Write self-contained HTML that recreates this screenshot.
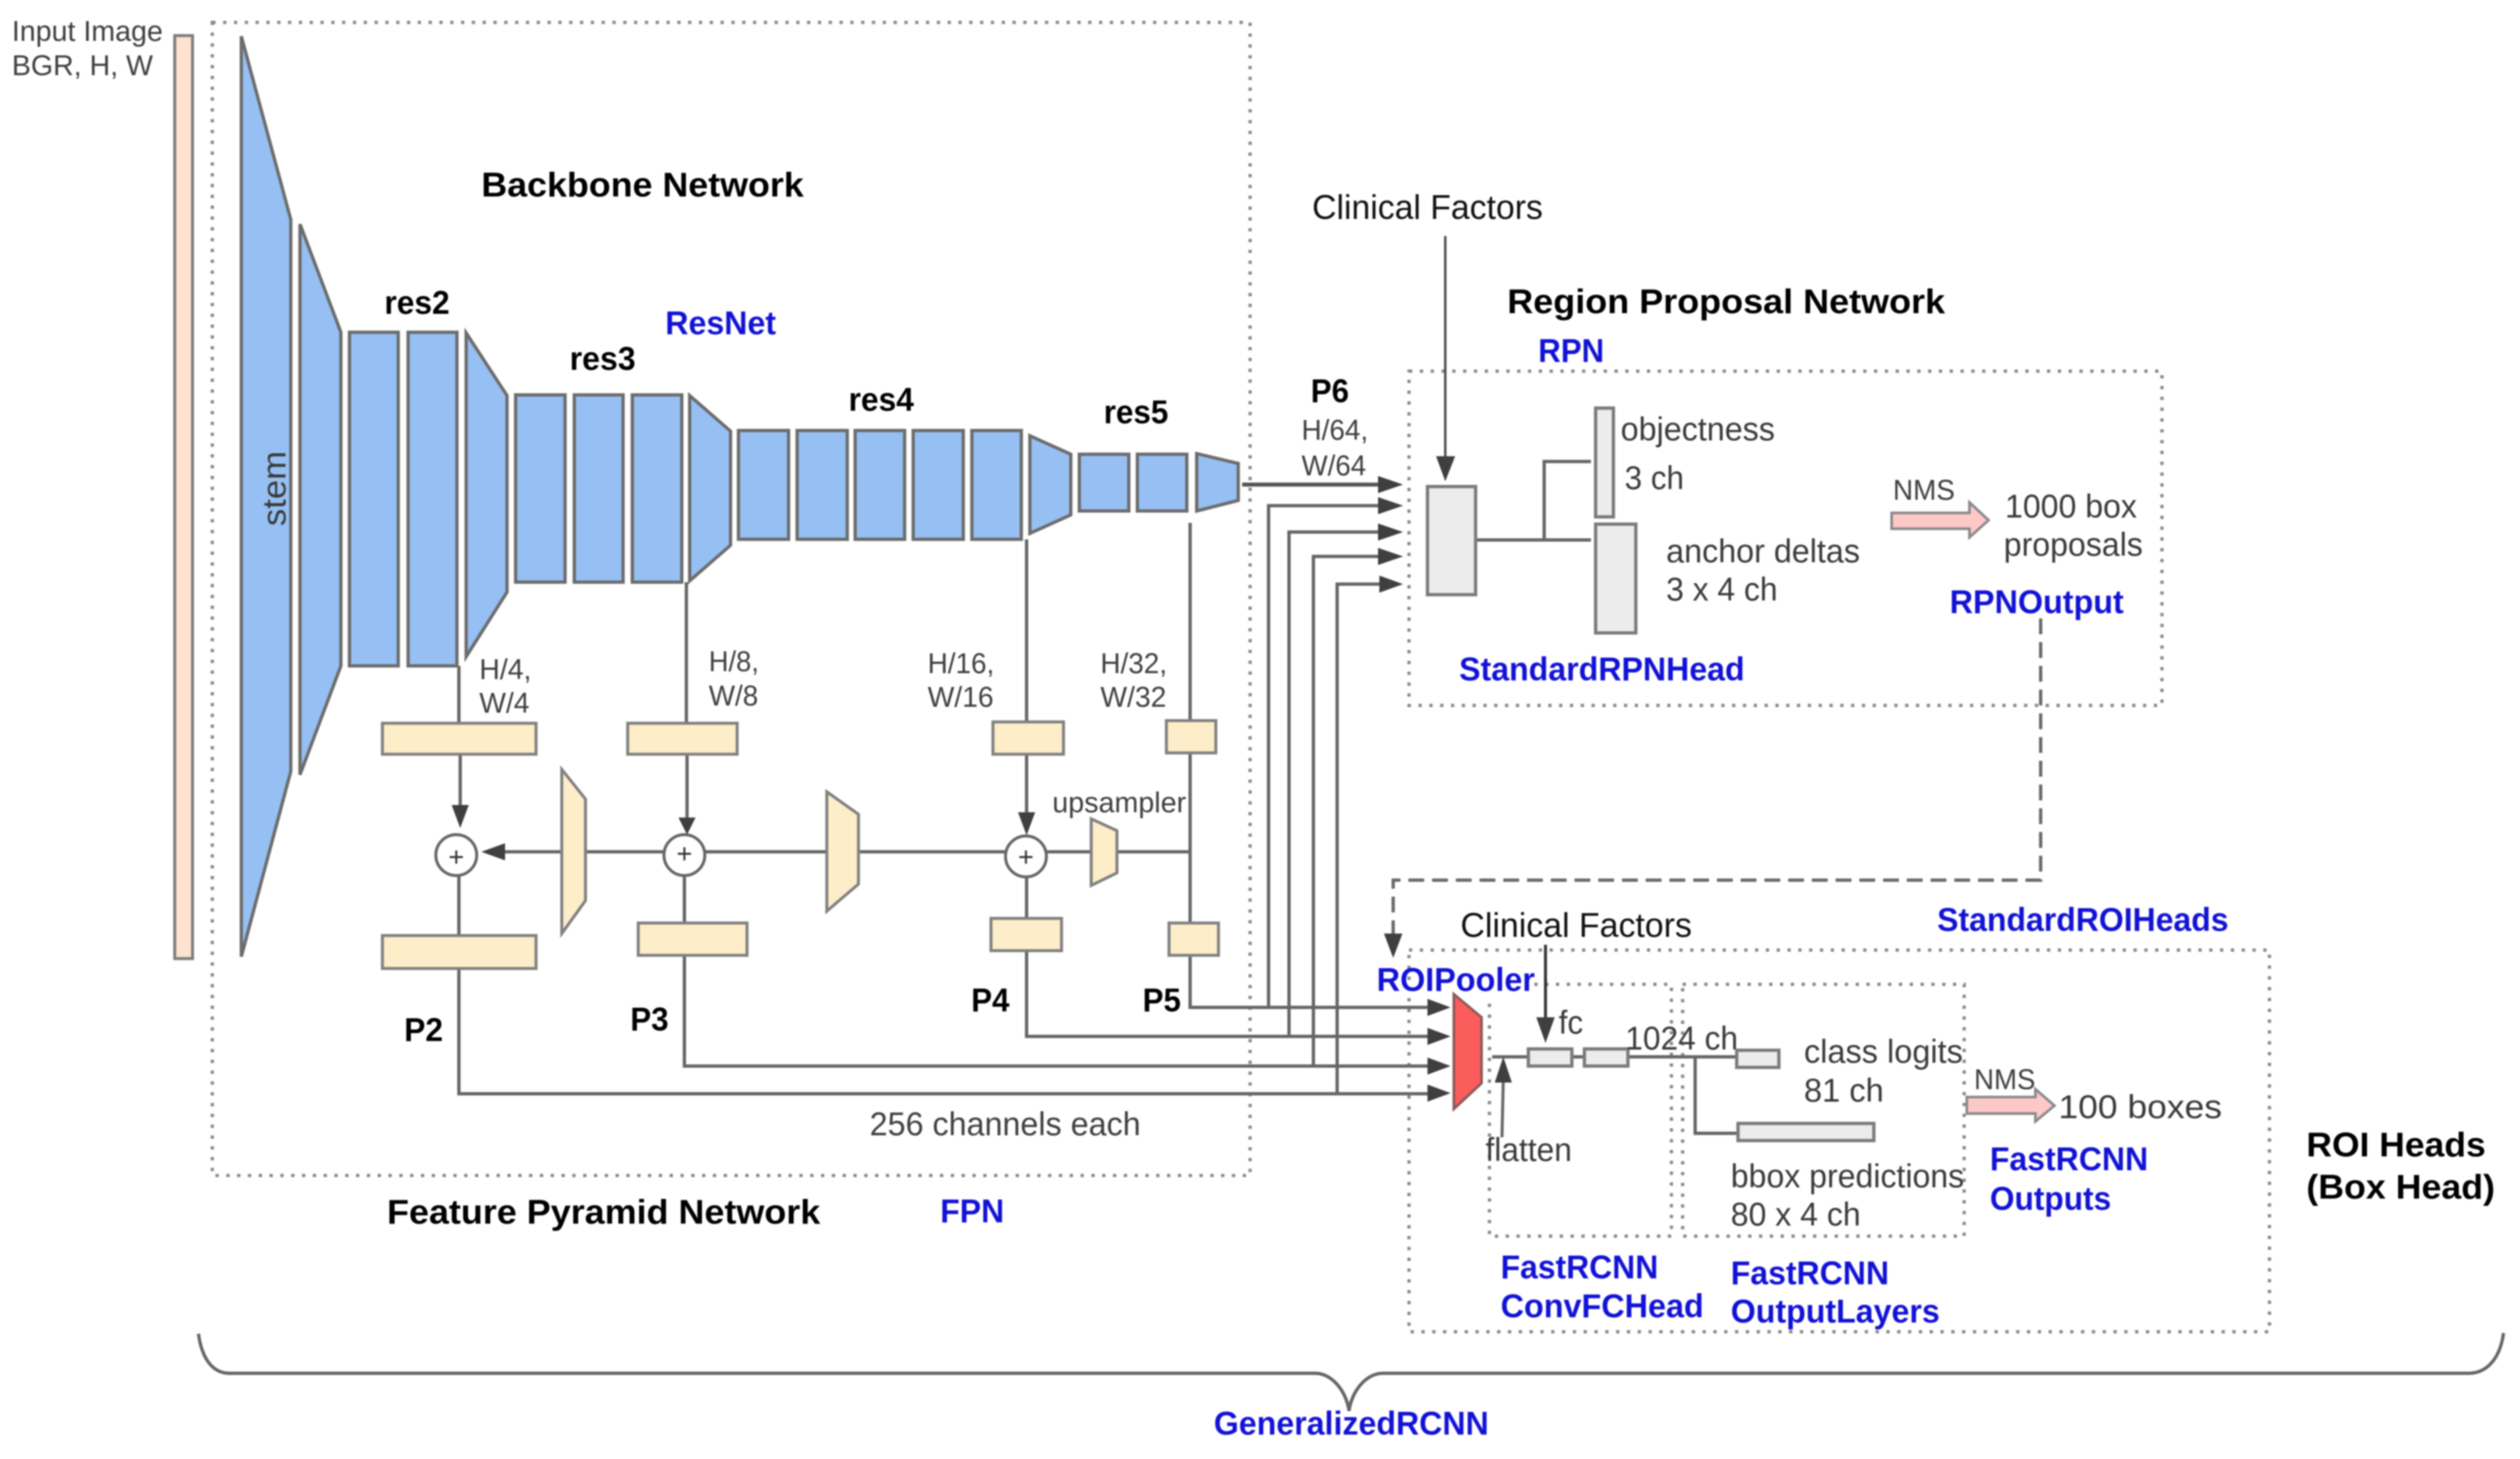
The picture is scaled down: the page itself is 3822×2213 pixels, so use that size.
<!DOCTYPE html>
<html><head><meta charset="utf-8"><style>
html,body{margin:0;padding:0;background:#fff;width:3822px;height:2213px;overflow:hidden}
svg{display:block}
text{font-family:"Liberation Sans",sans-serif}
.b{font-weight:bold;fill:#000;font-size:52px}
.bs{font-weight:bold;fill:#000;font-size:50px}
.u{font-weight:bold;fill:#1212d6;font-size:50px}
.r{fill:#3a3a3a;font-size:50px}
.s{fill:#3f3f3f;font-size:44px}
.c{fill:#111;font-size:52px}
.bl polygon,.bl rect{fill:#96c0f3;stroke:#6c6c6c;stroke-width:5}
.yl polygon,.yl rect{fill:#fdedc9;stroke:#808080;stroke-width:4.5}
.gr rect{fill:#ececec;stroke:#7b7b7b;stroke-width:5}
.ln path{fill:none;stroke:#666;stroke-width:5}
.ar polygon{fill:#3f3f3f}
.dot rect,.dot path{fill:none;stroke:#8a8a8a;stroke-width:5;stroke-dasharray:5 11.4}
.dash{fill:none;stroke:#6a6a6a;stroke-width:5;stroke-dasharray:24 12}
</style></head><body>
<svg width="3822" height="2213" viewBox="0 0 3822 2213" xmlns="http://www.w3.org/2000/svg">
<g style="filter:blur(1.1px)">
<g class="dot">
<rect x="322" y="34" width="1574" height="1749"/>
<rect x="2137" y="563" width="1142" height="507"/>
<rect x="2137" y="1441" width="1305" height="579"/>
<path d="M2327 1493H2535V1875H2259V1513"/>
<rect x="2552" y="1493" width="427" height="382"/>
</g>
<rect x="265" y="54" width="27" height="1400" fill="#fde3cf" stroke="#7d7d7d" stroke-width="4.5"/>
<g class="ln">
<path d="M696 1010V1097M698 1144V1225M696 1329V1659H2170"/>
<path d="M1041 883V1097M1042 1144V1245M1038 1329V1617H2170"/>
<path d="M1557 818V1095M1557 1144V1240M1557 1331V1572H2170"/>
<path d="M1805 793V1528H2170"/>
<path d="M1805 1292H760"/>
<path d="M1884 735H2095" style="stroke-width:6;stroke:#555"/>
<path d="M1924 1528V767H2095"/>
<path d="M1955 1572V807H2095"/>
<path d="M1992 1617V844H2095"/>
<path d="M2028 1659V886H2095"/>
<path d="M2239 819H2413M2342 819V700H2413"/>
<path d="M2263 1603H2634M2571 1603V1719H2636"/>
<path d="M301 2023C306 2060 322 2083 348 2083H1995C2020 2083 2042 2110 2046 2140C2050 2110 2072 2083 2097 2083H3744C3772 2083 3792 2060 3797 2022"/>
</g>
<g class="bl">
<polygon points="366,55 441,333 441,1170 366,1451"/>
<polygon points="455,340 517,504 517,1010 455,1175"/>
<rect x="530" y="504" width="74" height="506"/>
<rect x="619" y="504" width="74" height="506"/>
<polygon points="707,505 769,600 769,898 707,996"/>
<rect x="782" y="599" width="75" height="284"/>
<rect x="871" y="599" width="74" height="284"/>
<rect x="959" y="599" width="75" height="284"/>
<polygon points="1046,600 1108,654 1108,827 1046,881"/>
<rect x="1120" y="653" width="76" height="165"/>
<rect x="1209" y="653" width="76" height="165"/>
<rect x="1297" y="653" width="75" height="165"/>
<rect x="1385" y="653" width="76" height="165"/>
<rect x="1474" y="653" width="75" height="165"/>
<polygon points="1562,661 1624,689 1624,781 1562,809"/>
<rect x="1637" y="689" width="75" height="86"/>
<rect x="1725" y="689" width="75" height="86"/>
<polygon points="1815,688 1878,703 1878,759 1815,775"/>
</g>
<g class="yl">
<rect x="580" y="1097" width="233" height="47"/>
<rect x="952" y="1097" width="166" height="47"/>
<rect x="1506" y="1095" width="107" height="49"/>
<rect x="1769" y="1093" width="75" height="49"/>
<rect x="580" y="1419" width="233" height="50"/>
<rect x="968" y="1400" width="165" height="49"/>
<rect x="1503" y="1393" width="107" height="49"/>
<rect x="1773" y="1400" width="75" height="49"/>
<polygon points="852,1167 888,1212 888,1366 852,1416"/>
<polygon points="1254,1201 1302,1235 1302,1341 1254,1382"/>
<polygon points="1655,1242 1694,1260 1694,1324 1655,1343"/>
</g>
<g fill="#fff" stroke="#666" stroke-width="4.5">
<circle cx="692" cy="1297" r="31"/><circle cx="1038" cy="1297" r="31"/><circle cx="1556" cy="1299" r="31"/>
</g>
<g stroke="#333" stroke-width="3" fill="none">
<path d="M682 1300H702M692 1290V1310M1028 1295H1048M1038 1285V1305M1546 1300H1566M1556 1290V1310"/>
</g>
<g class="gr">
<rect x="2165" y="738" width="73" height="164"/>
<rect x="2420" y="619" width="27" height="165"/>
<rect x="2420" y="795" width="61" height="165"/>
<rect x="2318" y="1591" width="66" height="26"/>
<rect x="2403" y="1591" width="66" height="26"/>
<rect x="2634" y="1593" width="64" height="26"/>
<rect x="2636" y="1704" width="206" height="26"/>
</g>
<polygon points="2205,1508 2247,1543 2247,1643 2205,1682" fill="#fb5c5c" stroke="#8a5a5a" stroke-width="4"/>
<polygon points="2869,778 2987,778 2987,762 3016,789 2987,815 2987,802 2869,802" fill="#fdc8c8" stroke="#8a8a8a" stroke-width="4"/>
<polygon points="2983,1664 3087,1664 3087,1652 3116,1677 3087,1701 3087,1689 2983,1689" fill="#fdc8c8" stroke="#8a8a8a" stroke-width="4"/>
<path class="dash" d="M3095 938V1335H2113V1420"/>
<path d="M2192 358V700" stroke="#444" stroke-width="3.5" fill="none"/>
<path d="M2344 1433V1550" stroke="#333" stroke-width="4.5" fill="none"/>
<path d="M2278 1725L2280 1637" stroke="#666" stroke-width="4.5" fill="none"/>
<g class="ar">
<polygon points="2128,735 2090,722 2090,748"/>
<polygon points="2128,767 2090,754 2090,780"/>
<polygon points="2128,807 2090,794 2090,820"/>
<polygon points="2128,844 2090,831 2090,857"/>
<polygon points="2128,886 2092,873 2092,899"/>
<polygon points="2200,1528 2165,1515 2165,1541"/>
<polygon points="2200,1572 2165,1559 2165,1585"/>
<polygon points="2200,1617 2165,1604 2165,1630"/>
<polygon points="2200,1658 2165,1645 2165,1671"/>
<polygon points="730,1292 766,1279 766,1305"/>
<polygon points="698,1256 685,1221 711,1221"/>
<polygon points="1042,1266 1029,1240 1055,1240"/>
<polygon points="1557,1267 1544,1232 1570,1232"/>
<polygon points="2192,730 2178,692 2207,692"/>
<polygon points="2344,1582 2330,1543 2358,1543"/>
<polygon points="2280,1603 2267,1642 2293,1642"/>
<polygon points="2113,1453 2099,1416 2127,1416" fill="#555"/>
</g>
<text class="s" x="18" y="62" textLength="229" lengthAdjust="spacingAndGlyphs">Input Image</text>
<text class="s" x="18" y="114" textLength="214" lengthAdjust="spacingAndGlyphs">BGR, H, W</text>
<text class="b" x="730" y="298" textLength="489" lengthAdjust="spacingAndGlyphs">Backbone Network</text>
<text class="bs" x="583" y="476" textLength="99" lengthAdjust="spacingAndGlyphs">res2</text>
<text class="bs" x="864" y="561" textLength="100" lengthAdjust="spacingAndGlyphs">res3</text>
<text class="bs" x="1287" y="623" textLength="99" lengthAdjust="spacingAndGlyphs">res4</text>
<text class="bs" x="1674" y="642" textLength="98" lengthAdjust="spacingAndGlyphs">res5</text>
<text class="u" x="1009" y="507" textLength="168" lengthAdjust="spacingAndGlyphs">ResNet</text>
<text class="r" transform="translate(433 798) rotate(-90)" textLength="114" lengthAdjust="spacingAndGlyphs">stem</text>
<text class="s" x="727" y="1030" textLength="79" lengthAdjust="spacingAndGlyphs">H/4,</text>
<text class="s" x="727" y="1081" textLength="76" lengthAdjust="spacingAndGlyphs">W/4</text>
<text class="s" x="1075" y="1018" textLength="76" lengthAdjust="spacingAndGlyphs">H/8,</text>
<text class="s" x="1075" y="1070" textLength="75" lengthAdjust="spacingAndGlyphs">W/8</text>
<text class="s" x="1407" y="1021" textLength="101" lengthAdjust="spacingAndGlyphs">H/16,</text>
<text class="s" x="1407" y="1072" textLength="100" lengthAdjust="spacingAndGlyphs">W/16</text>
<text class="s" x="1669" y="1021" textLength="101" lengthAdjust="spacingAndGlyphs">H/32,</text>
<text class="s" x="1669" y="1072" textLength="100" lengthAdjust="spacingAndGlyphs">W/32</text>
<text class="s" x="1974" y="667" textLength="101" lengthAdjust="spacingAndGlyphs">H/64,</text>
<text class="s" x="1974" y="721" textLength="98" lengthAdjust="spacingAndGlyphs">W/64</text>
<text class="bs" x="1988" y="610" textLength="58" lengthAdjust="spacingAndGlyphs">P6</text>
<text class="s" x="1596" y="1232" textLength="203" lengthAdjust="spacingAndGlyphs">upsampler</text>
<text class="bs" x="613" y="1579" textLength="59" lengthAdjust="spacingAndGlyphs">P2</text>
<text class="bs" x="956" y="1563" textLength="58" lengthAdjust="spacingAndGlyphs">P3</text>
<text class="bs" x="1473" y="1534" textLength="58" lengthAdjust="spacingAndGlyphs">P4</text>
<text class="bs" x="1733" y="1534" textLength="58" lengthAdjust="spacingAndGlyphs">P5</text>
<text class="s" x="1319" y="1722" textLength="411" style="font-size:50px" lengthAdjust="spacingAndGlyphs">256 channels each</text>
<text class="b" x="587" y="1856" textLength="657" lengthAdjust="spacingAndGlyphs">Feature Pyramid Network</text>
<text class="u" x="1426" y="1854" textLength="97" lengthAdjust="spacingAndGlyphs">FPN</text>
<text class="c" x="1990" y="332" textLength="350" lengthAdjust="spacingAndGlyphs">Clinical Factors</text>
<text class="b" x="2286" y="475" textLength="664" lengthAdjust="spacingAndGlyphs">Region Proposal Network</text>
<text class="u" x="2333" y="549" textLength="100" lengthAdjust="spacingAndGlyphs">RPN</text>
<text class="r" x="2458" y="668" textLength="234" lengthAdjust="spacingAndGlyphs">objectness</text>
<text class="r" x="2464" y="742" textLength="90" lengthAdjust="spacingAndGlyphs">3 ch</text>
<text class="r" x="2527" y="853" textLength="294" lengthAdjust="spacingAndGlyphs">anchor deltas</text>
<text class="r" x="2527" y="911" textLength="169" lengthAdjust="spacingAndGlyphs">3 x 4 ch</text>
<text class="s" x="2871" y="758" textLength="94" lengthAdjust="spacingAndGlyphs">NMS</text>
<text class="r" x="3041" y="785" textLength="200" lengthAdjust="spacingAndGlyphs">1000 box</text>
<text class="r" x="3039" y="843" textLength="211" lengthAdjust="spacingAndGlyphs">proposals</text>
<text class="u" x="2957" y="930" textLength="264" lengthAdjust="spacingAndGlyphs">RPNOutput</text>
<text class="u" x="2213" y="1032" textLength="433" lengthAdjust="spacingAndGlyphs">StandardRPNHead</text>
<text class="u" x="2938" y="1412" textLength="442" lengthAdjust="spacingAndGlyphs">StandardROIHeads</text>
<text class="c" x="2215" y="1421" textLength="351" lengthAdjust="spacingAndGlyphs">Clinical Factors</text>
<text class="u" x="2088" y="1503" textLength="240" lengthAdjust="spacingAndGlyphs">ROIPooler</text>
<text class="r" x="2364" y="1568" textLength="37" lengthAdjust="spacingAndGlyphs">fc</text>
<text class="r" x="2465" y="1592" textLength="171" lengthAdjust="spacingAndGlyphs">1024 ch</text>
<text class="r" x="2736" y="1612" textLength="241" lengthAdjust="spacingAndGlyphs">class logits</text>
<text class="r" x="2736" y="1671" textLength="121" lengthAdjust="spacingAndGlyphs">81 ch</text>
<text class="s" x="2994" y="1652" textLength="93" lengthAdjust="spacingAndGlyphs">NMS</text>
<text class="r" x="3122" y="1696" textLength="248" lengthAdjust="spacingAndGlyphs">100 boxes</text>
<text class="r" x="2253" y="1761" textLength="131" lengthAdjust="spacingAndGlyphs">flatten</text>
<text class="r" x="2625" y="1801" textLength="354" lengthAdjust="spacingAndGlyphs">bbox predictions</text>
<text class="r" x="2625" y="1859" textLength="197" lengthAdjust="spacingAndGlyphs">80 x 4 ch</text>
<text class="u" x="3018" y="1775" textLength="240" lengthAdjust="spacingAndGlyphs">FastRCNN</text>
<text class="u" x="3018" y="1835" textLength="184" lengthAdjust="spacingAndGlyphs">Outputs</text>
<text class="u" x="2276" y="1939" textLength="239" lengthAdjust="spacingAndGlyphs">FastRCNN</text>
<text class="u" x="2276" y="1998" textLength="308" lengthAdjust="spacingAndGlyphs">ConvFCHead</text>
<text class="u" x="2625" y="1948" textLength="240" lengthAdjust="spacingAndGlyphs">FastRCNN</text>
<text class="u" x="2625" y="2006" textLength="317" lengthAdjust="spacingAndGlyphs">OutputLayers</text>
<text class="b" x="3498" y="1754" textLength="272" lengthAdjust="spacingAndGlyphs">ROI Heads</text>
<text class="b" x="3498" y="1818" textLength="286" lengthAdjust="spacingAndGlyphs">(Box Head)</text>
<text class="u" x="1841" y="2176" textLength="417" lengthAdjust="spacingAndGlyphs">GeneralizedRCNN</text>
</g>
</svg>
</body></html>
